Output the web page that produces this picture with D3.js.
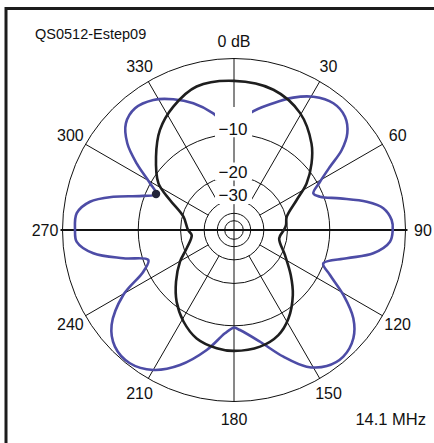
<!DOCTYPE html>
<html>
<head>
<meta charset="utf-8">
<script src="https://cdn.jsdelivr.net/npm/d3@7"></script>
<style>
body { margin:0; background:#fff; }
svg text { font-family: "Liberation Sans", Arial, sans-serif; fill:#111; }
</style>
</head>
<body>
<div id="chart"></div>
<script>
// compass angles (deg) and gain (dB)
var blackAngles = [0, 15.7, 29.5, 41.9, 49.4, 57.3, 64.4, 75.8, 84.5, 90, 100.4, 116.1, 128.4, 137.9, 148.4, 157.1, 167.4, 180,
                   188.3, 199, 208.9, 218.6, 228.3, 239.6, 248.8, 263, 270, 284.7, 295.1, 301.7, 313.2, 323.5, 333.8, 345.4];
var blackDb = [-2.4, -2.8, -4.2, -6.7, -8.9, -11.8, -15.5, -19.7, -20.4, -21.2, -22.6, -19.0, -14.8, -11.5, -8.6, -7.0, -6.2, -6.0,
               -6.2, -6.9, -8.5, -10.7, -13.6, -17.3, -20.9, -23.9, -22.6, -20.4, -15.2, -11.3, -8.1, -5.5, -3.8, -2.5];

var blueAngles = [0, 7.8, 17.2, 24.1, 30.8, 38.1, 44.4, 49.5, 53.4, 56.6, 60.7, 65.2, 68.8, 73.4, 78, 81.7, 86.4, 90,
                  94.3, 99.5, 104.1, 110.5, 115.1, 120.7, 126.5, 132.2, 139.2, 145.7, 152, 158.7, 166.9, 176.6, 180,
                  185, 192.8, 201.8, 210, 218, 225.6, 232.2, 239.6, 245.3, 250.7, 255.7, 260.6, 265.7, 270,
                  276.1, 281.1, 285.4, 290.6, 294.8, 299.1, 304.4, 309.1, 314.6, 320.9, 328.2, 335.1, 342.2, 349.9];
var blueDb = [-9.5, -6.45, -4.4, -2.88, -1.73, -1.08, -1.34, -2.41, -4.21, -6.86, -9.5, -11.57, -10.65, -7.53, -4.02, -2.2, -1.41, -1.33,
              -1.58, -3.34, -6.68, -10.09, -8.26, -5.13, -2.48, -1.07, -0.43, -0.7, -1.76, -3.98, -6.9, -9.22, -9.66,
              -8.63, -5.69, -2.83, -1.02, -0.24, -0.49, -1.75, -4.97, -9.29, -10.92, -6.96, -3.17, -1.44, -1.3,
              -1.39, -2.67, -5.4, -9.8, -11.87, -9.94, -6.42, -3.79, -2.09, -1.53, -1.96, -2.99, -4.35, -6.35];

var markerAngle = 294.8;

var ringDb = [0, -10, -20, -30, -40, -50];
var ringLabels = ["\u221210", "\u221220", "\u221230"];
var spokeAngles = [30, 60, 120, 150, 210, 240, 300, 330];
var angleTicks = [0, 30, 60, 90, 120, 150, 180, 210, 240, 270, 300, 330];

var titleText = "QS0512-Estep09";
var freqText = "14.1 MHz";

var width = 434, height = 443;
var cx = 234, cy = 230, R = 171.5;

var svg = d3.select("#chart").append("svg")
	.attr("width", width)
	.attr("height", height);

// ARRL log-periodic radius: 0.89 per 2 dB
var rLog = d3.scaleLog()
	.domain([R * Math.pow(0.89, 25), R])
	.range([-50, 0]);
function rScale(db){ return rLog.invert(db); }

var aScale = d3.scaleLinear().domain([0, 360]).range([0, 2 * Math.PI]);

function px(a, r){ return cx + r * Math.sin(aScale(a)); }
function py(a, r){ return cy - r * Math.cos(aScale(a)); }

// frame
svg.append("path")
	.attr("d", "M6,443 L6,8.5 L434,8.5")
	.attr("fill", "none")
	.attr("stroke", "#1c1c1c")
	.attr("stroke-width", 3);

var g = svg.append("g").attr("transform", "translate(" + cx + "," + cy + ")");

// rings
g.selectAll(".ring").data(ringDb).enter().append("circle")
	.attr("class", "ring")
	.attr("r", function(d){ return rScale(d); })
	.attr("fill", "none")
	.attr("stroke", "#111")
	.attr("stroke-width", 1);

// spokes
g.selectAll(".spoke").data(spokeAngles).enter().append("line")
	.attr("class", "spoke")
	.attr("x1", function(d){ return rScale(-30) * Math.sin(aScale(d)); })
	.attr("y1", function(d){ return -rScale(-30) * Math.cos(aScale(d)); })
	.attr("x2", function(d){ return R * Math.sin(aScale(d)); })
	.attr("y2", function(d){ return -R * Math.cos(aScale(d)); })
	.attr("stroke", "#111")
	.attr("stroke-width", 1);

g.append("line")
	.attr("x1", 0).attr("x2", 0)
	.attr("y1", -R).attr("y2", R)
	.attr("stroke", "#111")
	.attr("stroke-width", 1);

g.append("line")
	.attr("x1", -R - 2).attr("x2", R + 2)
	.attr("y1", 0).attr("y2", 0)
	.attr("stroke", "#111")
	.attr("stroke-width", 2);

var blackData = blackAngles.map(function(a, i){ return {a: a, db: blackDb[i]}; });
var blueData = blueAngles.map(function(a, i){ return {a: a, db: blueDb[i]}; });

var radial = d3.lineRadial()
	.angle(function(d){ return aScale(d.a); })
	.radius(function(d){ return rScale(d.db); })
	.curve(d3.curveCatmullRomClosed.alpha(0.5));

g.append("path")
	.attr("d", radial(blueData))
	.attr("fill", "none")
	.attr("stroke", "#4d4ca6")
	.attr("stroke-width", 2.6);

g.append("path")
	.attr("d", radial(blackData))
	.attr("fill", "none")
	.attr("stroke", "#1e1e1e")
	.attr("stroke-width", 2.6);

var mk = blueData.filter(function(d){ return d.a === markerAngle; })[0];
g.append("circle")
	.attr("cx", rScale(mk.db) * Math.sin(aScale(mk.a)))
	.attr("cy", -rScale(mk.db) * Math.cos(aScale(mk.a)))
	.attr("r", 4.2)
	.attr("fill", "#23253a");

// ring labels with white boxes
var lab = g.selectAll(".rlab").data(ringLabels).enter().append("g").attr("class", "rlab");
lab.append("rect")
	.attr("x", -19)
	.attr("width", 37)
	.attr("y", function(d, i){ var b = -rScale(ringDb[i + 1]) + 1; return i === 0 ? -123 : b - 15; })
	.attr("height", function(d, i){ var b = -rScale(ringDb[i + 1]) + 1; return i === 0 ? b + 2 + 123 : 18; })
	.attr("fill", "#fff");
lab.append("text")
	.attr("x", -1)
	.attr("y", function(d, i){ return -rScale(ringDb[i + 1]) + 1; })
	.attr("text-anchor", "middle")
	.style("font-size", "17px")
	.text(function(d){ return d; });

// angle labels
g.selectAll(".alab").data(angleTicks).enter().append("text")
	.attr("class", "alab")
	.attr("x", function(d){ return 189 * Math.sin(aScale(d)); })
	.attr("y", function(d){ return -189 * Math.cos(aScale(d)); })
	.attr("dy", "0.35em")
	.attr("text-anchor", "middle")
	.style("font-size", "16px")
	.text(function(d){ return d === 0 ? "0 dB" : d; });

svg.append("text")
	.attr("x", 35).attr("y", 39)
	.style("font-size", "14.5px")
	.text(titleText);

svg.append("text")
	.attr("x", 426).attr("y", 425)
	.attr("text-anchor", "end")
	.style("font-size", "16.5px")
	.text(freqText);
</script>
</body>
</html>
